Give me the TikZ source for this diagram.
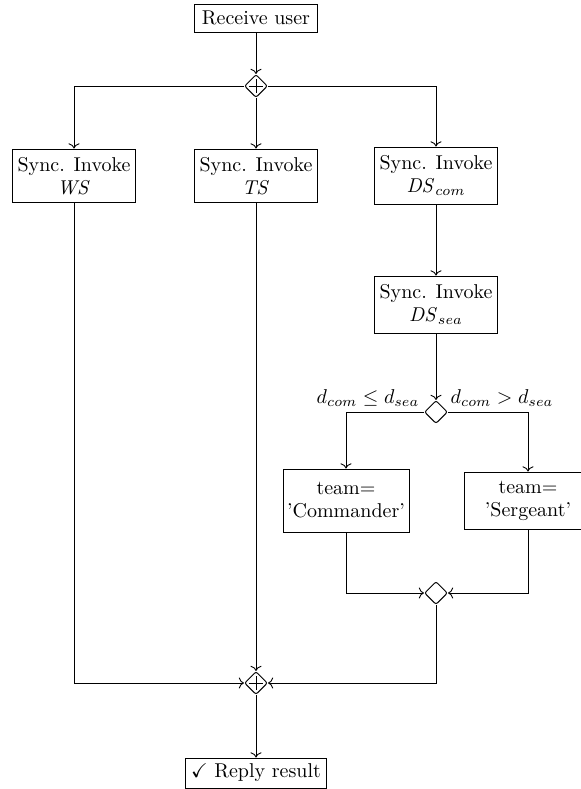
\documentclass[tikz,border=0pt]{standalone}
\usepackage{amssymb}
\usetikzlibrary{shapes.geometric,arrows.meta}
\begin{document}
\begin{tikzpicture}[x=0.5pt,y=-0.5pt,
  box/.style={draw, line width=0.5pt, align=center, inner sep=2pt, font=\fontsize{10}{11.5}\selectfont},
  gate/.style={draw, diamond, minimum width=11.5pt, minimum height=11.5pt, inner sep=0pt, rounded corners=1pt, line width=0.5pt},
  plusgate/.style={gate, path picture={
    \draw[line width=0.45pt] ([xshift=-3.6pt]path picture bounding box.center) -- ([xshift=3.6pt]path picture bounding box.center);
    \draw[line width=0.45pt] ([yshift=-3.6pt]path picture bounding box.center) -- ([yshift=3.6pt]path picture bounding box.center);}},
  conn/.style={line width=0.45pt, -{To[length=2.6pt,width=5.5pt]}},
  lbl/.style={font=\fontsize{10.3}{11.5}\selectfont, inner sep=0pt}]
\useasboundingbox (0,0) rectangle (581,789);

\node[box, minimum width=61.5pt, minimum height=14pt] (recv) at (256,18) {Receive user};
\node[plusgate] (g1) at (256,86) {};
\node[box, minimum width=61.5pt, minimum height=26.5pt] (ws) at (74,175.5) {Sync. Invoke\\ $\mathit{WS}$};
\node[box, minimum width=61.5pt, minimum height=26.5pt] (ts) at (256,175.5) {Sync. Invoke\\ $\mathit{TS}$};
\node[box, minimum width=61.5pt, minimum height=28.5pt] (dscom) at (436,175.5) {Sync. Invoke\\ $\mathit{DS}_{com}$};
\node[box, minimum width=61.5pt, minimum height=28.5pt] (dssea) at (436,304.5) {Sync. Invoke\\ $\mathit{DS}_{sea}$};
\node[gate] (dec) at (436,412) {};
\node[lbl] (lleft) at (368,398) {$d_{com} \leq d_{sea}$};
\node[lbl] (lright) at (502,398) {$d_{com} > d_{sea}$};
\node[box, minimum width=63pt, minimum height=31.5pt] (cmd) at (346,500.5) {team=\\ 'Commander'};
\node[box, minimum width=64pt, minimum height=28.5pt] (srg) at (528,500.5) {team=\\ 'Sergeant'};
\node[gate] (merge) at (436,593) {};
\node[plusgate] (g2) at (256,683) {};
\node[box, minimum width=70.5pt, minimum height=15pt] (reply) at (256,773) {$\checkmark$ Reply result};

\draw[conn] (recv.south) -- (g1.north);
\draw[conn] (g1.west) -| (ws.north);
\draw[conn] (g1.south) -- (ts.north);
\draw[conn] (g1.east) -| (dscom.north);
\draw[conn] (dscom.south) -- (dssea.north);
\draw[conn] (dssea.south) -- (dec.north);
\draw[conn] (dec.west) -| (cmd.north);
\draw[conn] (dec.east) -| (srg.north);
\draw[conn] (cmd.south) |- (merge.west);
\draw[conn] (srg.south) |- (merge.east);
\draw[conn] (ws.south) |- (g2.west);
\draw[conn] (ts.south) -- (g2.north);
\draw[conn] (merge.south) |- (g2.east);
\draw[conn] (g2.south) -- (reply.north);
\end{tikzpicture}
\end{document}
